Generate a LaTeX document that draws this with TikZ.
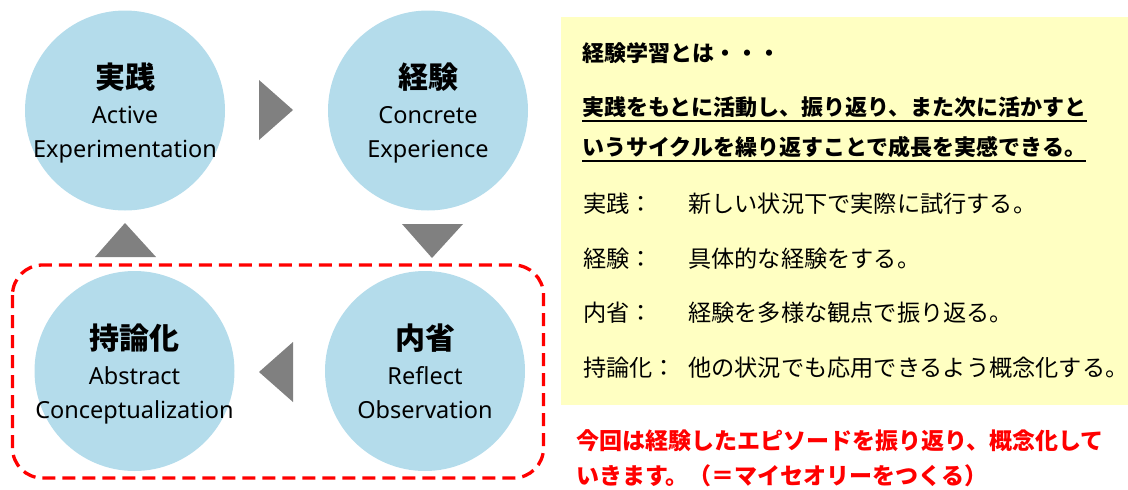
\documentclass[tikz,border=0pt]{standalone}
\usepackage{fontspec}
\setmainfont{Noto Sans CJK JP}
\newfontfamily\latinfont{Noto Sans}
\usetikzlibrary{calc}
\definecolor{cblue}{RGB}{180,220,235}
\definecolor{tgray}{RGB}{128,128,128}
\definecolor{byellow}{RGB}{255,255,194}
\definecolor{tred}{RGB}{255,0,0}
\begin{document}
\begin{tikzpicture}[x=1pt,y=-1pt,
  cyc/.style={circle,fill=cblue,minimum size=200pt,inner sep=0pt},
  ttl/.style={inner sep=0pt,font=\bfseries\fontsize{30}{30}\selectfont},
  eng/.style={inner sep=0pt,anchor=base,font=\latinfont\fontsize{23.5}{23.5}\selectfont},
  tri/.style={fill=tgray},
  hd/.style={inner sep=0pt,anchor=west,font=\bfseries\fontsize{22}{22}\selectfont},
  body/.style={inner sep=0pt,anchor=west,font=\fontsize{23.2}{23.2}\selectfont},
  note/.style={inner sep=0pt,anchor=west,text=tred,font=\bfseries\fontsize{23}{23}\selectfont},
  uline/.style={line width=2pt},
  frame/.style={draw=tred,line width=3.3pt,dash pattern=on 13pt off 7pt,rounded corners=30pt}
]
\useasboundingbox (0,0) rectangle (1128,490);
% yellow panel
\fill[byellow] (561,17) rectangle (1128,405);
% cycle circles
\node[cyc] (c1) at (125,110.5) {};
\node[cyc] (c2) at (428,110.5) {};
\node[cyc] (c3) at (134.5,371) {};
\node[cyc] (c4) at (425,371) {};
% circle texts
\node[ttl] (t1) at (125,77.5) {実践};
\node[eng] (e1a) at (125,123) {Active};
\node[eng] (e1b) at (125,157) {Experimentation};
\node[ttl] (t2) at (428,77.5) {経験};
\node[eng] (e2a) at (428,123) {Concrete};
\node[eng] (e2b) at (428,157) {Experience};
\node[ttl] (t3) at (134.5,338.5) {持論化};
\node[eng] (e3a) at (134.5,384) {Abstract};
\node[eng] (e3b) at (134.5,418) {Conceptualization};
\node[ttl] (t4) at (425,338.5) {内省};
\node[eng] (e4a) at (425,384) {Reflect};
\node[eng] (e4b) at (425,418) {Observation};
% arrow triangles
\fill[tri] (259,80) -- (293,110) -- (259,140) -- cycle;
\fill[tri] (402,224) -- (463,224) -- (432,258) -- cycle;
\fill[tri] (125,223) -- (95,257) -- (156,257) -- cycle;
\fill[tri] (259,372) -- (293,342) -- (293,402) -- cycle;
% dashed frame
\draw[frame] (12.5,265) rectangle (543.5,478);
% right panel text
\node[hd] (h0) at (582,53) {経験学習とは・・・};
\node[hd] (h1) at (582,107) {実践をもとに活動し、振り返り、また次に活かすと};
\node[hd] (h2) at (582,147) {いうサイクルを繰り返すことで成長を実感できる。};
\draw[uline] ([yshift=-3pt]h1.south west) -- ([yshift=-3pt]h1.south east);
\draw[uline] ([yshift=-3pt]h2.south west) -- ([yshift=-3pt]h2.south east);
\node[body] (k1) at (583,204) {実践：};
\node[body] (d1) at (688,204) {新しい状況下で実際に試行する。};
\node[body] (k2) at (583,259) {経験：};
\node[body] (d2) at (688,259) {具体的な経験をする。};
\node[body] (k3) at (583,313) {内省：};
\node[body] (d3) at (688,313) {経験を多様な観点で振り返る。};
\node[body] (k4) at (583,367.5) {持論化：};
\node[body] (d4) at (688,367.5) {他の状況でも応用できるよう概念化する。};
% red note
\node[note] (n1) at (576,441) {今回は経験したエピソードを振り返り、概念化して};
\node[note] (n2) at (576,476) {いきます。（＝マイセオリーをつくる）};
\end{tikzpicture}
\end{document}
